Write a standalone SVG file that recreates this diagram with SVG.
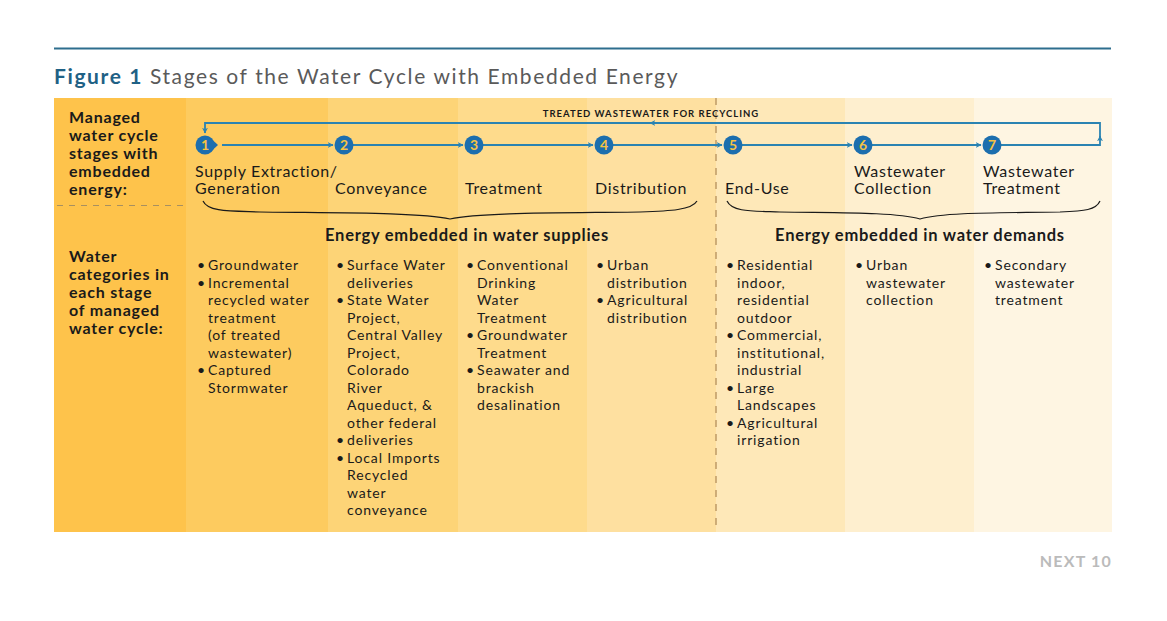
<svg xmlns="http://www.w3.org/2000/svg" width="1167" height="621" viewBox="0 0 1167 621">
<defs>
<marker id="ah" viewBox="0 0 10 10" refX="9" refY="5" markerWidth="6" markerHeight="6" orient="auto" markerUnits="userSpaceOnUse">
<path d="M0,0 L10,5 L0,10 L3,5 z" fill="#2A83B2"/>
</marker>
<style>
text{font-family:Lato,"Noto Sans","Liberation Sans",sans-serif;fill:#1a1a1a}
.hdr{font-size:16px;font-weight:bold;letter-spacing:0.8px}
.stg{font-size:16px;letter-spacing:0.7px}
.blt{font-size:14px;letter-spacing:0.85px}
.sub{font-size:16.5px;font-weight:bold;letter-spacing:0.75px}
.num{font-size:14px;font-weight:bold;fill:#F6C343;text-anchor:middle}
.circ{fill:#1C6EAE}
.ln{stroke:#2A83B2;stroke-width:1.8;fill:none}
.brace{stroke:#1a1a1a;stroke-width:1.2;fill:none}
</style>
</defs>
<rect width="1167" height="621" fill="#fff"/>
<line x1="54" y1="48.5" x2="1111" y2="48.5" stroke="#2E6E8E" stroke-width="2"/>
<text x="54" y="84" style="font-size:21px;letter-spacing:1.6px"><tspan font-weight="bold" style="fill:#1F6185">Figure 1</tspan><tspan style="fill:#5a5a5a"> Stages of the Water Cycle with Embedded Energy</tspan></text>

<g id="columns">
<rect x="54" y="98" width="132" height="434" fill="#FEC34B"/>
<rect x="186" y="98" width="142" height="434" fill="#FDCB5F"/>
<rect x="328" y="98" width="130" height="434" fill="#FDD477"/>
<rect x="458" y="98" width="129" height="434" fill="#FEDB8C"/>
<rect x="587" y="98" width="129" height="434" fill="#FEE0A0"/>
<rect x="716" y="98" width="129" height="434" fill="#FEE8B8"/>
<rect x="845" y="98" width="129" height="434" fill="#FEEFCF"/>
<rect x="974" y="98" width="138" height="434" fill="#FEF5E2"/>
</g>
<line x1="57" y1="205.5" x2="184" y2="205.5" stroke="#A89060" stroke-width="1" stroke-dasharray="6,6"/>
<line x1="716" y1="98" x2="716" y2="532" stroke="#C29F6A" stroke-width="1.6" stroke-dasharray="7,7"/>

<g id="left-labels">
<text class="hdr" x="69"><tspan x="69" y="123">Managed</tspan><tspan x="69" y="141">water cycle</tspan><tspan x="69" y="159">stages with</tspan><tspan x="69" y="177">embedded</tspan><tspan x="69" y="195">energy:</tspan></text>
<text class="hdr" x="69"><tspan x="69" y="262">Water</tspan><tspan x="69" y="280">categories in</tspan><tspan x="69" y="298">each stage</tspan><tspan x="69" y="316">of managed</tspan><tspan x="69" y="334">water cycle:</tspan></text>
</g>

<g id="connectors">
<line class="ln" x1="222" y1="145" x2="333" y2="145" marker-end="url(#ah)"/>
<line class="ln" x1="353" y1="145" x2="463" y2="145" marker-end="url(#ah)"/>
<line class="ln" x1="483" y1="145" x2="593" y2="145" marker-end="url(#ah)"/>
<line class="ln" x1="613" y1="145" x2="722" y2="145" marker-end="url(#ah)"/>
<line class="ln" x1="742" y1="145" x2="852" y2="145" marker-end="url(#ah)"/>
<line class="ln" x1="872" y1="145" x2="981" y2="145" marker-end="url(#ah)"/>
<polyline class="ln" points="1001,145 1100,145 1100,136" marker-end="url(#ah)"/>
<polyline class="ln" points="1100,137 1100,123 650,123" marker-end="url(#ah)"/>
<polyline class="ln" points="651,123 205,123 205,133" marker-end="url(#ah)"/>
<text x="651" y="117" text-anchor="middle" style="font-size:9.5px;font-weight:bold;letter-spacing:1px">TREATED WASTEWATER FOR RECYCLING</text>
</g>

<g id="stage1"><circle class="circ" cx="205" cy="145" r="9.5"/><path class="circ" d="M211,138.5 L218,145 L211,151.5 z"/><text class="num" x="205" y="150">1</text>
<text class="stg"><tspan x="195" y="177">Supply Extraction/</tspan><tspan x="195" y="194">Generation</tspan></text></g>
<g id="stage2"><circle class="circ" cx="344" cy="145" r="9.5"/><text class="num" x="344" y="150">2</text><text class="stg" x="335" y="194">Conveyance</text></g>
<g id="stage3"><circle class="circ" cx="474" cy="145" r="9.5"/><text class="num" x="474" y="150">3</text><text class="stg" x="465" y="194">Treatment</text></g>
<g id="stage4"><circle class="circ" cx="604" cy="145" r="9.5"/><text class="num" x="604" y="150">4</text><text class="stg" x="595" y="194">Distribution</text></g>
<g id="stage5"><circle class="circ" cx="733" cy="145" r="9.5"/><text class="num" x="733" y="150">5</text><text class="stg" x="725" y="194">End-Use</text></g>
<g id="stage6"><circle class="circ" cx="863" cy="145" r="9.5"/><text class="num" x="863" y="150">6</text><text class="stg"><tspan x="854" y="177">Wastewater</tspan><tspan x="854" y="194">Collection</tspan></text></g>
<g id="stage7"><circle class="circ" cx="992" cy="145" r="9.5"/><text class="num" x="992" y="150">7</text><text class="stg"><tspan x="983" y="177">Wastewater</tspan><tspan x="983" y="194">Treatment</tspan></text></g>

<g id="brace-supplies">
<path class="brace" d="M203,201 C208,212 230,211 260,212 C330,213 420,212 450,219 C480,212 570,213 640,212 C670,211 692,210 697,201"/>
<text class="sub" x="467" y="241" text-anchor="middle">Energy embedded in water supplies</text>
</g>
<g id="brace-demands">
<path class="brace" d="M727,201 C732,212 752,211 780,212 C840,213 895,212 920,219 C945,212 1000,213 1060,212 C1085,211 1096,210 1100,201"/>
<text class="sub" x="920" y="241" text-anchor="middle">Energy embedded in water demands</text>
</g>

<g id="list1">
<text class="blt"><tspan x="197" y="270">•</tspan><tspan x="208" y="270">Groundwater</tspan><tspan x="197" y="287.5">•</tspan><tspan x="208" y="287.5">Incremental</tspan><tspan x="208" y="305">recycled water</tspan><tspan x="208" y="322.5">treatment</tspan><tspan x="208" y="340">(of treated</tspan><tspan x="208" y="357.5">wastewater)</tspan><tspan x="197" y="375">•</tspan><tspan x="208" y="375">Captured</tspan><tspan x="208" y="392.5">Stormwater</tspan></text>
</g>
<g id="list2">
<text class="blt"><tspan x="336" y="270">•</tspan><tspan x="347" y="270">Surface Water</tspan><tspan x="347" y="287.5">deliveries</tspan><tspan x="336" y="305">•</tspan><tspan x="347" y="305">State Water</tspan><tspan x="347" y="322.5">Project,</tspan><tspan x="347" y="340">Central Valley</tspan><tspan x="347" y="357.5">Project,</tspan><tspan x="347" y="375">Colorado</tspan><tspan x="347" y="392.5">River</tspan><tspan x="347" y="410">Aqueduct, &amp;</tspan><tspan x="347" y="427.5">other federal</tspan><tspan x="336" y="445">•</tspan><tspan x="347" y="445">deliveries</tspan><tspan x="336" y="462.5">•</tspan><tspan x="347" y="462.5">Local Imports</tspan><tspan x="347" y="480">Recycled</tspan><tspan x="347" y="497.5">water</tspan><tspan x="347" y="515">conveyance</tspan></text>
</g>
<g id="list3">
<text class="blt"><tspan x="466" y="270">•</tspan><tspan x="477" y="270">Conventional</tspan><tspan x="477" y="287.5">Drinking</tspan><tspan x="477" y="305">Water</tspan><tspan x="477" y="322.5">Treatment</tspan><tspan x="466" y="340">•</tspan><tspan x="477" y="340">Groundwater</tspan><tspan x="477" y="357.5">Treatment</tspan><tspan x="466" y="375">•</tspan><tspan x="477" y="375">Seawater and</tspan><tspan x="477" y="392.5">brackish</tspan><tspan x="477" y="410">desalination</tspan></text>
</g>
<g id="list4">
<text class="blt"><tspan x="596" y="270">•</tspan><tspan x="607" y="270">Urban</tspan><tspan x="607" y="287.5">distribution</tspan><tspan x="596" y="305">•</tspan><tspan x="607" y="305">Agricultural</tspan><tspan x="607" y="322.5">distribution</tspan></text>
</g>
<g id="list5">
<text class="blt"><tspan x="726" y="270">•</tspan><tspan x="737" y="270">Residential</tspan><tspan x="737" y="287.5">indoor,</tspan><tspan x="737" y="305">residential</tspan><tspan x="737" y="322.5">outdoor</tspan><tspan x="726" y="340">•</tspan><tspan x="737" y="340">Commercial,</tspan><tspan x="737" y="357.5">institutional,</tspan><tspan x="737" y="375">industrial</tspan><tspan x="726" y="392.5">•</tspan><tspan x="737" y="392.5">Large</tspan><tspan x="737" y="410">Landscapes</tspan><tspan x="726" y="427.5">•</tspan><tspan x="737" y="427.5">Agricultural</tspan><tspan x="737" y="445">irrigation</tspan></text>
</g>
<g id="list6">
<text class="blt"><tspan x="855" y="270">•</tspan><tspan x="866" y="270">Urban</tspan><tspan x="866" y="287.5">wastewater</tspan><tspan x="866" y="305">collection</tspan></text>
</g>
<g id="list7">
<text class="blt"><tspan x="984" y="270">•</tspan><tspan x="995" y="270">Secondary</tspan><tspan x="995" y="287.5">wastewater</tspan><tspan x="995" y="305">treatment</tspan></text>
</g>

<text x="1112" y="567" text-anchor="end" style="font-size:16px;font-weight:bold;letter-spacing:1.2px;fill:#BBBBBB">NEXT 10</text>
</svg>
